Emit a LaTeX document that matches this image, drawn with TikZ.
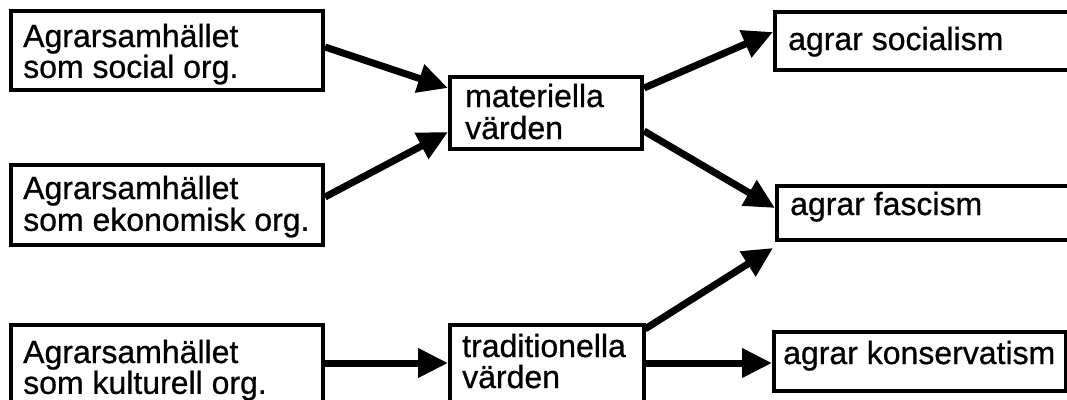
\documentclass[tikz,border=0pt]{standalone}
\usepackage{fontspec}
\setmainfont{Liberation Sans}[FakeBold=0.7]
\usetikzlibrary{arrows.meta}
\tikzset{
  box/.style={draw=black, line width=4pt, fill=white, inner sep=0pt, anchor=north west},
  lbl/.style={anchor=base west, inner sep=0pt, font=\fontsize{32}{28}\selectfont},
  arr/.style={line width=7pt, -{Triangle[length=30pt,width=28pt]}}
}
\newcommand{\twol}[3]{\parbox[t]{300pt}{\raggedright #1\\[#3]#2}}
\begin{document}
\begin{tikzpicture}[x=1pt,y=-1pt]
\clip (0,0) rectangle (1067,399);
\fill[white] (0,0) rectangle (1067,399);
% boxes
\node[box, minimum width=312pt, minimum height=79pt] (b1) at (9,9) {};
\node[box, minimum width=312pt, minimum height=80pt] (b2) at (9,163) {};
\node[box, minimum width=312pt, minimum height=100pt] (b3) at (9,323) {};
\node[box, minimum width=192pt, minimum height=72pt] (m) at (448,75) {};
\node[box, minimum width=194pt, minimum height=100pt] (t) at (448,323) {};
\node[box, minimum width=320pt, minimum height=58pt] (s) at (773,10) {};
\node[box, minimum width=320pt, minimum height=54pt] (f) at (775,184) {};
\node[box, minimum width=292pt, minimum height=59pt] (k) at (772,330) {};
% texts
\node[lbl] (b1t) at (23,47) {\twol{Agrarsamhället}{som social org.}{0pt}};
\node[lbl] (b2t) at (23,199) {\twol{Agrarsamhället}{som ekonomisk org.}{1pt}};
\node[lbl] (b3t) at (23,363) {\twol{Agrarsamhället}{som kulturell org.}{0pt}};
\node[lbl] (mt) at (465,107) {\twol{materiella}{värden}{4pt}};
\node[lbl] (tt) at (462,357) {\twol{traditionella}{värden}{3pt}};
\node[lbl] (st) at (788,50) {agrar socialism};
\node[lbl] (ft) at (790,215) {agrar fascism};
\node[lbl] (kt) at (783,364) {agrar konservatism};
% arrows
\draw[arr] ([yshift=-38pt]b1.north east) -- ([yshift=-13pt]m.north west);
\draw[arr] ([yshift=-34pt]b2.north east) -- ([yshift=19pt]m.south west);
\draw[arr] ([yshift=-13pt]m.north east) -- ([yshift=-22pt]s.north west);
\draw[arr] ([yshift=20pt]m.south east) -- ([yshift=-24pt]f.north west);
\draw[arr] ([xshift=-1pt,yshift=-6pt]t.north east) -- ([xshift=-2pt,yshift=-6pt]f.south west);
\draw[arr] ([yshift=-40pt]b3.north east) -- ([yshift=-40pt]t.north west);
\draw[arr] ([yshift=-40pt]t.north east) -- ([yshift=-33pt]k.north west);
\end{tikzpicture}
\end{document}
